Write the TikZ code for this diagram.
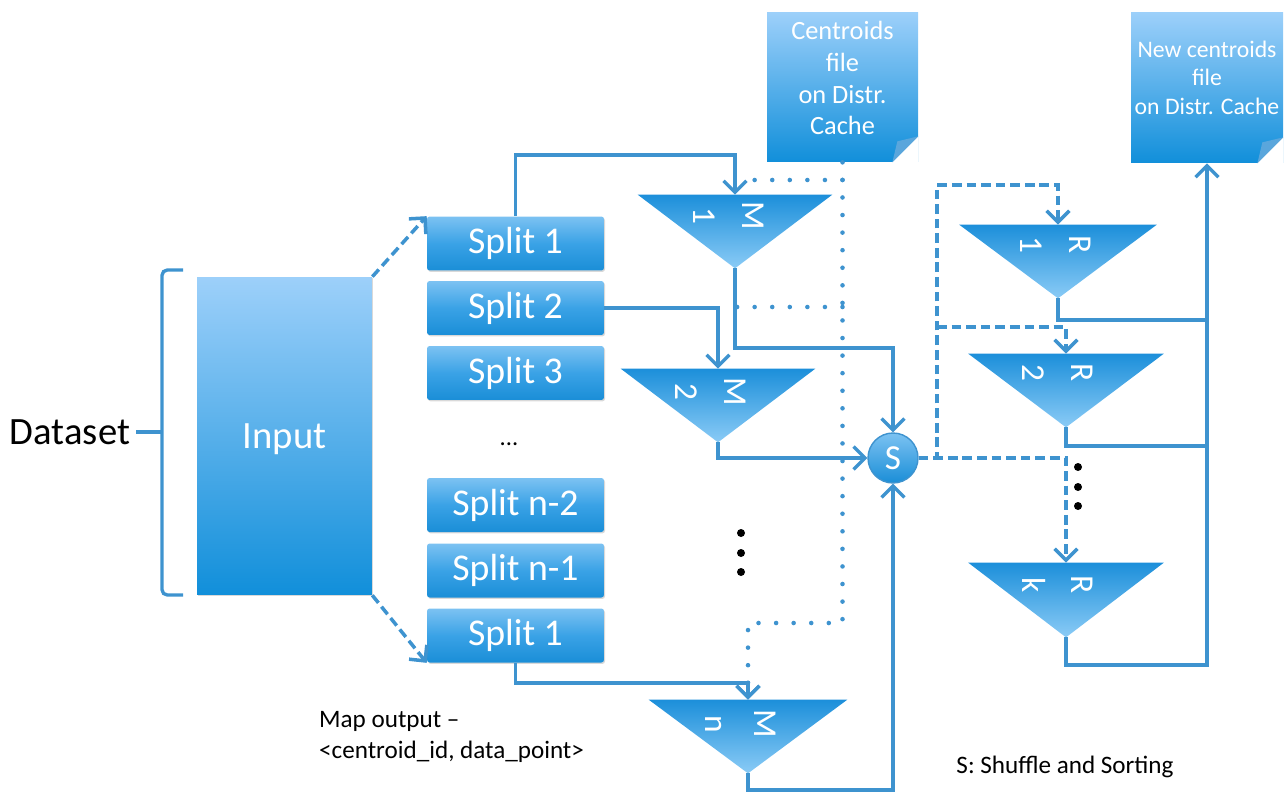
\documentclass[tikz,border=0pt]{standalone}
\usepackage{fontspec}
\setmainfont{Carlito}
\usetikzlibrary{arrows.meta,shadows}

\definecolor{lineblue}{HTML}{3E93CF}
\definecolor{splittop}{HTML}{7CC2F2}
\definecolor{splitmid}{HTML}{3AA2E6}
\definecolor{splitbot}{HTML}{1A8ED7}
\definecolor{inputtop}{HTML}{9DD0FA}
\definecolor{inputbot}{HTML}{118FDA}
\definecolor{tritop}{HTML}{1C8FDA}
\definecolor{tribot}{HTML}{8ACBF6}
\definecolor{foldblue}{HTML}{5AA6DC}

\begin{document}
\begin{tikzpicture}[x=0.02cm, y=-0.02cm,
    >={Straight Barb[length=6.5pt,width=13pt]},
    flow/.style={draw=lineblue, line width=1.9pt, ->},
    plainline/.style={draw=lineblue, line width=1.9pt},
    dashflow/.style={draw=lineblue, line width=2pt, dash pattern=on 5.5pt off 2.8pt, ->},
    dotflow/.style={draw=lineblue, line width=2.6pt, line cap=round, dash pattern=on 0pt off 10pt, -{Straight Barb[length=6.5pt,width=13pt,line width=1.9pt]}},
    dotline/.style={draw=lineblue, line width=2.6pt, line cap=round, dash pattern=on 0pt off 10pt},
    splitbox/.style={rectangle, rounded corners=1.5pt, minimum width=3.54cm, minimum height=1.08cm,
        top color=splittop, bottom color=splitbot, middle color=splitmid, text=white,
        font=\fontsize{21.5}{24}\selectfont, inner sep=0pt,
        drop shadow={opacity=0.3, shadow xshift=0.6pt, shadow yshift=-0.8pt}},
    filebox/.style={rectangle, minimum width=3.02cm, minimum height=3cm,
        top color=inputtop, bottom color=inputbot},
    filetext/.style={text=white, align=center},
    tri/.style={rectangle, inner sep=0pt, minimum height=1.46cm},
    trifill/.style={top color=tritop, bottom color=tribot},
    trilabel/.style={text=white, rotate=-90, align=center, font=\fontsize{19}{28}\selectfont},
    note/.style={text=black, font=\fontsize{14.3}{18}\selectfont}]

    \useasboundingbox (0,0) rectangle (1287,794);

    % dataset and input %
    \node[text=black, font=\fontsize{22}{26}\selectfont, inner sep=3pt] (ds) at (70,432) {Dataset};
    \draw[plainline, rounded corners=3pt] (183,270) -- (162,270) -- (162,595) -- (183,595);
    \draw[plainline] (162,432) -- (ds.east);
    \node[rectangle, minimum width=3.5cm, minimum height=6.36cm, top color=inputtop, bottom color=inputbot,
        text=white, font=\fontsize{22}{26}\selectfont, text depth=-6pt,
        drop shadow={opacity=0.3, shadow xshift=0.6pt, shadow yshift=-0.8pt}] (inp) at (284.5,436) {Input};

    % splits %
    \node[splitbox] (s1) at (515.5,243.5) {Split 1};
    \node[splitbox] (s2) at (515.5,308) {Split 2};
    \node[splitbox] (s3) at (515.5,373) {Split 3};
    \node[text=black, font=\fontsize{14}{16}\selectfont] (sdots) at (509,444) {...};
    \node[splitbox] (s4) at (515.5,505) {Split n-2};
    \node[splitbox] (s5) at (515.5,570.5) {Split n-1};
    \node[splitbox] (sn) at (515.5,635.5) {Split 1};
    \draw[dashflow] (inp.north east) -- (s1.north west);
    \draw[dashflow] (inp.south east) -- (sn.south west);

    % centroid files %
    \node[filebox, label={[filetext, yshift=5pt, font=\fontsize{15}{18}\selectfont]center:Centroids\\file\\on Distr.\\Cache}] (cache) at (842.5,87) {};
    \fill[white] (cache.south east) -- ++(-26,0) -- ++(26,-26) -- cycle;
    \fill[foldblue] ([xshift=-0.52cm]cache.south east) -- ++(26,-26) -- ++(-21,5) -- cycle;
    \node[filebox, minimum width=3.04cm, minimum height=3.02cm, label={[filetext, yshift=5.5pt, font=\fontsize{13.5}{16}\selectfont]center:New centroids\\file\\on Distr. Cache}] (newc) at (1207,87.5) {};
    \fill[white] (newc.south east) -- ++(-26,0) -- ++(26,-26) -- cycle;
    \fill[foldblue] ([xshift=-0.52cm]newc.south east) -- ++(26,-26) -- ++(-21,5) -- cycle;

    % mappers %
    \node[tri, minimum width=3.88cm] (m1) at (735,231.5) {};
    \shade[trifill] (m1.north west) -- (m1.north east) -- (m1.south) -- cycle;
    \node[trilabel] at (729,216) {M\\1};
    \node[tri, minimum width=3.88cm] (m2) at (718,405.5) {};
    \shade[trifill] (m2.north west) -- (m2.north east) -- (m2.south) -- cycle;
    \node[trilabel] at (711,392) {M\\2};
    \node[tri, minimum width=3.96cm] (mn) at (748,736.5) {};
    \shade[trifill] (mn.north west) -- (mn.north east) -- (mn.south) -- cycle;
    \node[trilabel] at (741,724) {M\\n};
    \fill (741,533) circle (0.08cm);
    \fill (741,553) circle (0.08cm);
    \fill (741,572) circle (0.08cm);

    % shuffle %
    \node[circle, draw=lineblue, line width=0.8pt, minimum size=1cm, inner sep=0pt,
        top color=splittop, bottom color=splitbot, text=white,
        font=\fontsize{20}{24}\selectfont] (s) at (893,458) {S};

    % reducers %
    \node[tri, minimum width=3.94cm] (r1) at (1058,261.5) {};
    \shade[trifill] (r1.north west) -- (r1.north east) -- (r1.south) -- cycle;
    \node[trilabel] at (1056,245) {R\\1};
    \node[tri, minimum width=3.9cm] (r2) at (1066,390.5) {};
    \shade[trifill] (r2.north west) -- (r2.north east) -- (r2.south) -- cycle;
    \node[trilabel] at (1058,373) {R\\2};
    \node[tri, minimum width=3.9cm, minimum height=1.48cm] (rk) at (1066,600) {};
    \shade[trifill] (rk.north west) -- (rk.north east) -- (rk.south) -- cycle;
    \node[trilabel] at (1058,585) {R\\k};
    \fill (1078,467) circle (0.08cm);
    \fill (1078,487) circle (0.08cm);
    \fill (1078,506) circle (0.08cm);

    % splits to mappers %
    \draw[flow] (s1.north) -- (515.5,155) -| (m1.north);
    \draw[flow] (s2.east) -| (m2.north);
    \draw[flow] (sn.south) -- (515.5,683) -| (mn.north);

    % distributed cache %
    \draw[dotline] (842.5,180) -- (742,180);
    \draw[dotline] (842.5,307) -- (724,307);
    \draw[dotflow] (cache.south) -- (842.5,623) -| (mn.north);

    % mappers to shuffle %
    \draw[flow] (m1.south) -- (735,348) -| (s.north);
    \draw[flow] (m2.south) |- (s.west);
    \draw[flow] (mn.south) -- (748,790) -| (s.south);

    % shuffle to reducers %
    \draw[dashflow] (s.east) -- (937,458) -- (937,185) -| (r1.north);
    \draw[dashflow] (937,327) -| (r2.north);
    \draw[dashflow] (s.east) -| (rk.north);

    % reducers to new centroids %
    \draw[plainline] (r1.south) |- (1207,320);
    \draw[plainline] (r2.south) |- (1207,446);
    \draw[flow] (rk.south) -- (1066,665) -| (newc.south);

    % notes %
    \node[note, align=left, anchor=north west] (mapnote) at (313,705) {Map output --\\<centroid\_id, data\_point>};
    \node[note] (snote) at (1065,767) {S: Shuffle and Sorting};
\end{tikzpicture}
\end{document}
